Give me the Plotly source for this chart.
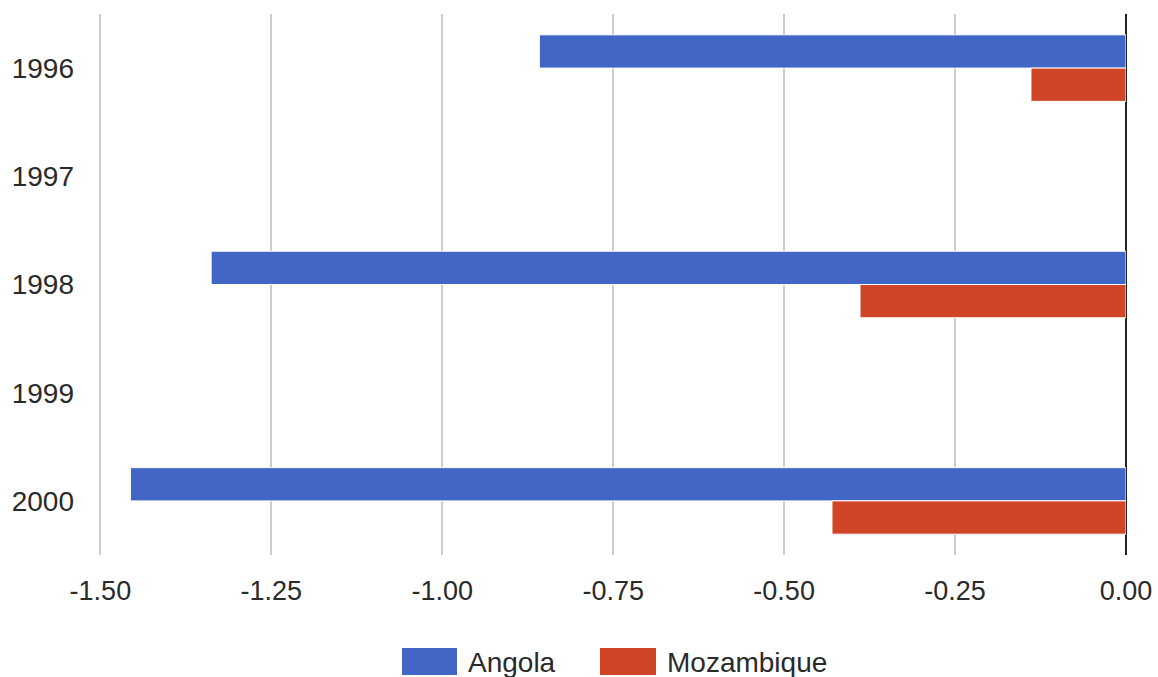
import plotly.graph_objects as go

# Yearly values for each country (no data for 1997 and 1999)
years = ["1996", "1997", "1998", "1999", "2000"]
angola = [-0.858, None, -1.338, None, -1.456]
mozambique = [-0.139, None, -0.389, None, -0.430]

x_ticks = [-1.5, -1.25, -1.0, -0.75, -0.5, -0.25, 0.0]
x_tick_text = ["-1.50", "-1.25", "-1.00", "-0.75", "-0.50", "-0.25", "0.00"]

series_names = ["Angola", "Mozambique"]
series_colors = ["#4166C5", "#CF4526"]

W, H = 1158, 677
M_L, M_R, M_T, M_B = 99, 32, 14, 122
plot_w = W - M_L - M_R
plot_h = H - M_T - M_B

font_family = "Liberation Sans, Arial, sans-serif"
text_color = "#2a2a2a"

fig = go.Figure()
for name, vals, color in zip(series_names, [angola, mozambique], series_colors):
    fig.add_trace(go.Bar(
        y=years, x=vals, name=name, orientation="h",
        marker=dict(color=color, line=dict(color="white", width=1)),
        showlegend=False,
    ))


def px_x(px):
    return (px - M_L) / plot_w


def px_y(py):
    return (H - M_B - py) / plot_h


# Legend drawn as swatches with labels below the plot
legend_items = [(402, 457), (600, 656)]
shapes = []
annotations = []
for (x0, x1), name, color in zip(legend_items, series_names, series_colors):
    shapes.append(dict(
        type="rect", xref="paper", yref="paper",
        x0=px_x(x0), x1=px_x(x1), y0=px_y(675), y1=px_y(648),
        fillcolor=color, line=dict(width=0),
    ))
    annotations.append(dict(
        xref="paper", yref="paper", x=px_x(x1 + 9), y=px_y(662),
        xanchor="left", yanchor="middle", showarrow=False,
        text=name, font=dict(size=28, color=text_color, family=font_family),
    ))

fig.update_layout(
    width=W, height=H,
    margin=dict(l=M_L, r=M_R, t=M_T, b=M_B, pad=0),
    paper_bgcolor="white", plot_bgcolor="white",
    barmode="group", bargap=0.385, bargroupgap=0.0,
    font=dict(family=font_family, size=27, color=text_color),
    shapes=shapes, annotations=annotations,
    xaxis=dict(
        range=[-1.502, 0], tickvals=x_ticks, ticktext=x_tick_text,
        showgrid=True, gridcolor="#CCCCCC", gridwidth=1.5,
        zeroline=True, zerolinecolor="#222222", zerolinewidth=1.5,
        showline=False, ticks="", ticklabelstandoff=17, automargin=False,
        tickfont=dict(size=27, color=text_color),
    ),
    yaxis=dict(
        type="category", categoryorder="array", categoryarray=years,
        autorange="reversed", showgrid=False, zeroline=False,
        showline=False, ticks="", ticklabelstandoff=24, automargin=False,
        tickfont=dict(size=28, color=text_color),
    ),
)

fig.write_html("out.html")
